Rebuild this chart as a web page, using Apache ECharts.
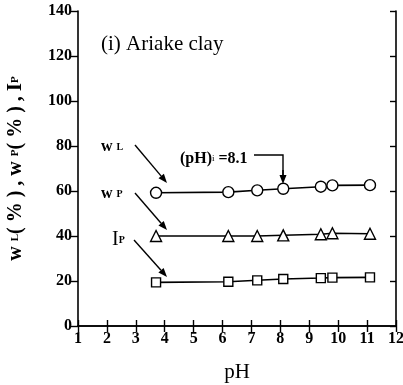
<!DOCTYPE html>
<html><head><meta charset="utf-8">
<script src="https://cdn.jsdelivr.net/npm/echarts@6/dist/echarts.min.js"></script>
<style>html,body{margin:0;padding:0;background:#fff}#c{width:403px;height:385px}</style>
</head><body><div id="c"></div>
<script>
var pH = [3.7, 6.2, 7.2, 8.1, 9.4, 9.8, 11.1];
var wL = [59.2, 59.5, 60.3, 61.0, 61.9, 62.5, 62.6];
var wP = [40.0, 40.0, 40.0, 40.3, 40.8, 41.2, 41.0];
var Ip = [19.4, 19.7, 20.3, 20.9, 21.3, 21.5, 21.6];
var xTicks = [1,2,3,4,5,6,7,8,9,10,11,12];
var yTicks = [0,20,40,60,80,100,120,140];

function pairs(xs, ys){ return xs.map(function(x,i){return [x, ys[i]];}); }
var FONT = '"Liberation Serif", "DejaVu Serif", serif';
var chart = echarts.init(document.getElementById('c'), null, {renderer:'canvas'});

function ser(name, data, symbol, size){
  return {name:name, type:'line', data:pairs(pH, data), symbol:symbol, symbolSize:size,
    showAllSymbol:true,
    lineStyle:{color:'#000', width:1.6}, itemStyle:{color:'#fff', borderColor:'#000', borderWidth:1.4},
    emphasis:{disabled:true}, z:3};
}

chart.setOption({
  animation:false,
  backgroundColor:'#fff',
  grid:{left:78, right:7, top:11, bottom:59, containLabel:false, outerBoundsMode:'none'},
  xAxis:[{type:'value', min:1, max:12, interval:1, position:'bottom',
    axisLine:{lineStyle:{color:'#000', width:1.6}},
    axisTick:{inside:true, length:6, lineStyle:{color:'#000', width:1.4}},
    axisLabel:{color:'#000', fontFamily:FONT, fontSize:16, fontWeight:'bold', margin:5,
      formatter:function(v){return xTicks.indexOf(v)>=0 ? String(v) : '';}},
    splitLine:{show:false},
    name:'pH', nameLocation:'middle', nameGap:36,
    nameTextStyle:{color:'#000', fontFamily:FONT, fontSize:21}},
   {type:'value', min:1, max:12, interval:1, position:'top',
    axisLine:{lineStyle:{color:'#000', width:1.6}},
    axisTick:{inside:true, length:6, lineStyle:{color:'#000', width:1.4}},
    axisLabel:{show:false}, splitLine:{show:false}}],
  yAxis:[{type:'value', min:0, max:140, interval:20, position:'left',
    axisLine:{show:true, lineStyle:{color:'#000', width:1.6}},
    axisTick:{show:true, inside:false, length:7, lineStyle:{color:'#000', width:1.4}},
    axisLabel:{color:'#000', fontFamily:FONT, fontSize:16, fontWeight:'bold', margin:6,
      formatter:function(v){return yTicks.indexOf(v)>=0 ? String(v) : '';}},
    splitLine:{show:false},
    name:'{a|w }{s|L}{a|( % ) , w }{s|P}{a|( % ) , }{b|I}{s|P}', nameLocation:'middle', nameGap:52, nameRotate:90,
    nameTextStyle:{color:'#000', fontFamily:FONT,
      rich:{a:{fontFamily:FONT, fontSize:20, fontWeight:'bold', color:'#000'},
            b:{fontFamily:FONT, fontSize:21, fontWeight:'bold', color:'#000'},
            s:{fontFamily:FONT, fontSize:11, fontWeight:'bold', color:'#000'}}}},
   {type:'value', min:0, max:140, interval:20, position:'right',
    axisLine:{show:true, lineStyle:{color:'#000', width:1.6}},
    axisTick:{show:true, inside:true, length:6, lineStyle:{color:'#000', width:1.4}},
    axisLabel:{show:false}, splitLine:{show:false}}],
  series:[ser('wL', wL, 'circle', 11), ser('wP', wP, 'triangle', 11), ser('Ip', Ip, 'rect', 9)]
});

function arrow(x1,y1,x2,y2){
  var ang = Math.atan2(y2-y1, x2-x1), L=9, W=3.5;
  var bx = x2 - L*Math.cos(ang), by = y2 - L*Math.sin(ang);
  var px = -Math.sin(ang)*W, py = Math.cos(ang)*W;
  return [
    {type:'line', shape:{x1:x1,y1:y1,x2:bx,y2:by}, style:{stroke:'#000', lineWidth:1.4}},
    {type:'polygon', shape:{points:[[x2,y2],[bx+px,by+py],[bx-px,by-py]]}, style:{fill:'#000'}}
  ];
}
var g = [];
g.push({type:'text', left:101, top:34, style:{text:'(i) Ariake clay', font:'21px '+FONT, fill:'#000'}});
g.push({type:'text', left:101, top:139, style:{text:'{a|w }{s|L}', rich:{a:{font:'bold 16px '+FONT, fill:'#000'}, s:{font:'bold 10px '+FONT, fill:'#000'}}}});
g.push({type:'text', left:101, top:186, style:{text:'{a|w }{s|P}', rich:{a:{font:'bold 16px '+FONT, fill:'#000'}, s:{font:'bold 10px '+FONT, fill:'#000'}}}});
g.push({type:'text', left:112, top:230, style:{text:'{a|I}{s|P}', rich:{a:{font:'20px '+FONT, fill:'#000'}, s:{font:'bold 10px '+FONT, fill:'#000'}}}});
g.push({type:'text', left:180, top:151, style:{text:'{a|(pH)}{s|i}{a| =8.1}', rich:{a:{font:'bold 16px '+FONT, fill:'#000'}, s:{font:'9px '+FONT, fill:'#000'}}}});
g = g.concat(arrow(135,145,167,183));
g = g.concat(arrow(135,193,167,230));
g = g.concat(arrow(134,240,167,277));
g.push({type:'polyline', shape:{points:[[254,155],[283,155],[283,175]]}, style:{stroke:'#000', lineWidth:1.4, fill:null}});
g = g.concat(arrow(283,170,283,184));
chart.setOption({graphic:g});
</script></body></html>
